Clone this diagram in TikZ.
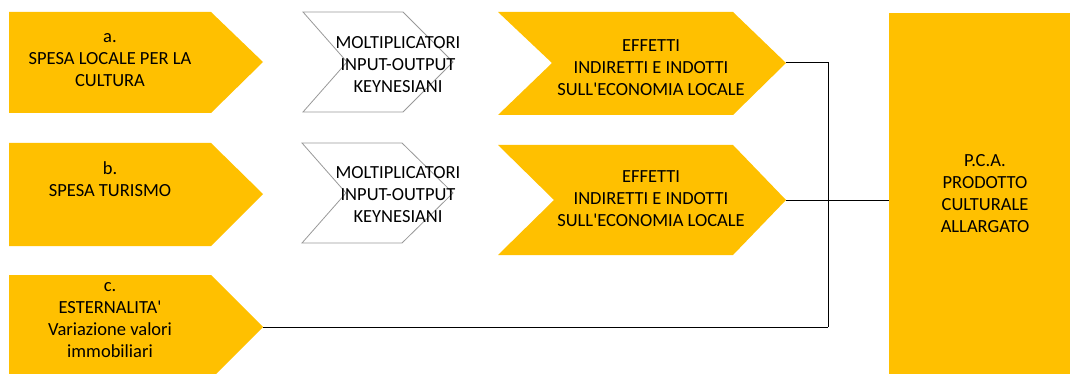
\documentclass[tikz,border=0pt]{standalone}
\usepackage{fontspec}
\setmainfont{Carlito}[Ligatures=TeXOff]
\definecolor{oro}{HTML}{FFC000}
\tikzset{
  testo/.style={align=center,font=\fontsize{18.5}{22}\selectfont,text=black,inner sep=0pt},
  chevron/.style={draw=gray!80,line width=0.8pt,fill=white},
  linea/.style={draw=black,line width=1pt}
}
\begin{document}
\begin{tikzpicture}[x=1pt,y=-1pt]
\useasboundingbox (0,0) rectangle (1070,374);
% frecce di sinistra
\fill[oro] (9,12) -- (211,12) -- (263,62) -- (211,113) -- (9,113) -- cycle;
\fill[oro] (9,143) -- (211,143) -- (263,194) -- (211,246) -- (9,246) -- cycle;
\fill[oro] (9,275) -- (211,275) -- (263,327) -- (216,374) -- (9,374) -- cycle;
\coordinate (puntaC) at (263,327);
% moltiplicatori
\draw[chevron] (303,12) -- (403,12) -- (453,62) -- (403,112) -- (303,112) -- (347,62) -- cycle;
\draw[chevron] (302,143) -- (402,143) -- (453,193) -- (402,243) -- (302,243) -- (346,193) -- cycle;
% effetti
\fill[oro] (498,12) -- (733,12) -- (786,63) -- (733,115) -- (498,115) -- (552,63) -- cycle;
\fill[oro] (498,145) -- (733,145) -- (786,200) -- (733,255) -- (498,255) -- (554,200) -- cycle;
\coordinate (puntaE1) at (786,63);
\coordinate (puntaE2) at (786,200);
% prodotto culturale allargato
\node[fill=oro,minimum width=191pt,minimum height=361pt,inner sep=0pt] (pca) at (984.5,193.5) {};
\node[testo] (tpca) at (985,194) {P.C.A.\\PRODOTTO\\CULTURALE\\ALLARGATO};
% testi
\node[testo] (ta) at (110,60) {a.\\SPESA LOCALE PER LA\\CULTURA};
\node[testo] (tb) at (110,179) {b.\\SPESA TURISMO};
\node[testo] (tc) at (110,320) {c.\\ESTERNALITA'\\Variazione valori\\immobiliari};
\node[testo] (m1) at (398,65) {MOLTIPLICATORI\\INPUT-OUTPUT\\KEYNESIANI};
\node[testo] (m2) at (398,195) {MOLTIPLICATORI\\INPUT-OUTPUT\\KEYNESIANI};
\node[testo] (e1) at (651,68) {EFFETTI\\INDIRETTI E INDOTTI\\SULL'ECONOMIA LOCALE};
\node[testo] (e2) at (651,199) {EFFETTI\\INDIRETTI E INDOTTI\\SULL'ECONOMIA LOCALE};
% collegamenti
\coordinate (giunto) at (828,327);
\draw[linea] (puntaE1) -| (giunto);
\draw[linea] (puntaC) -- (giunto);
\draw[linea] (puntaE2) -- (pca.west |- puntaE2);
\end{tikzpicture}
\end{document}
